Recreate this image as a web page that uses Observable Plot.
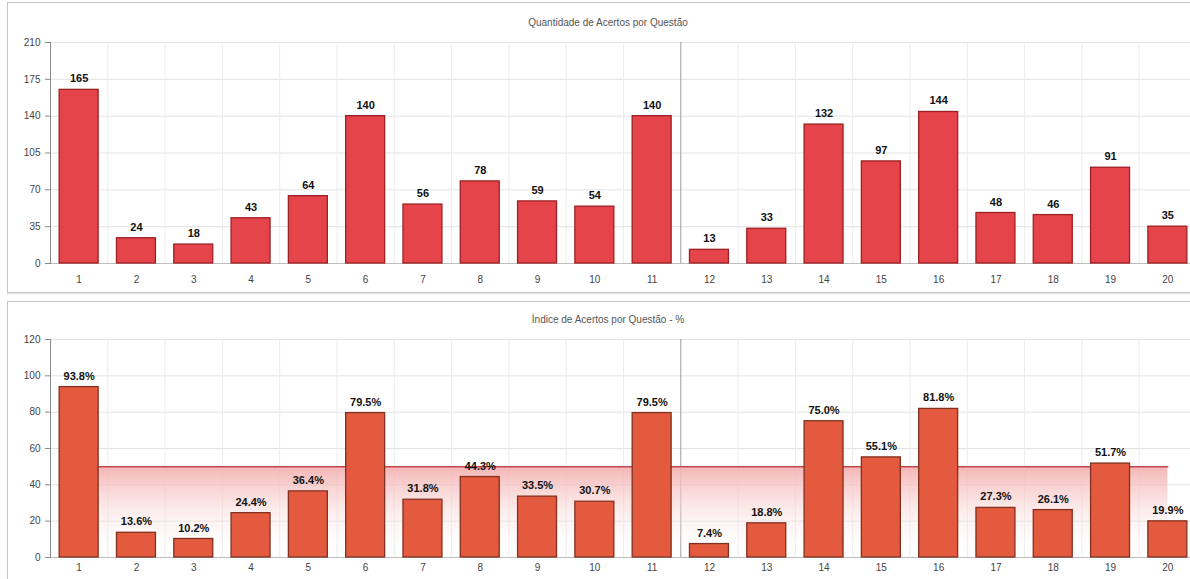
<!DOCTYPE html>
<html><head><meta charset="utf-8">
<script src="https://cdn.jsdelivr.net/npm/d3@7"></script>
<script src="https://cdn.jsdelivr.net/npm/@observablehq/plot@0.6"></script>
<style>
body{margin:0;width:1190px;height:579px;overflow:hidden;background:#fff;position:relative;font-family:"Liberation Sans",Arial,sans-serif}
.panel{position:absolute;left:7px;width:1200px;border:1px solid #c6c6c6;box-shadow:0 1px 1px #e4e4e4}
.title{position:absolute;left:0;width:1216px;text-align:center;font-size:10px;color:#555}
.chart{position:absolute;left:0;width:1200px}
.chart svg{max-width:none !important;height:auto}
</style></head><body>
<div class="panel" style="top:2px;height:289px"></div>
<div class="panel" style="top:301px;height:300px"></div>
<div class="title" style="top:17px">Quantidade de Acertos por Questão</div>
<div class="title" style="top:314px">Índice de Acertos por Questão - %</div>
<div id="c1" class="chart" style="top:0"></div>
<div id="c2" class="chart" style="top:296px"></div>
<script>
const questions = [1,2,3,4,5,6,7,8,9,10,11,12,13,14,15,16,17,18,19,20];
const acertos = [165,24,18,43,64,140,56,78,59,54,140,13,33,132,97,144,48,46,91,35];
const indice = [93.8,13.6,10.2,24.4,36.4,79.5,31.8,44.3,33.5,30.7,79.5,7.4,18.8,75.0,55.1,81.8,27.3,26.1,51.7,19.9];
const ticksTop = [0,35,70,105,140,175,210];
const ticksBottom = [0,20,40,60,80,100,120];
const meta = 50;

const W = 1200, ML = 50, MR = 4;
const step = (W - ML - MR) / questions.length;

function gradDefs() {
  const d = d3.create("svg:defs");
  const g = d.append("linearGradient").attr("id", "meta-grad")
    .attr("x1", 0).attr("y1", 0).attr("x2", 0).attr("y2", 1);
  g.append("stop").attr("offset", "0%").attr("stop-color", "#f4b0b0").attr("stop-opacity", 0.95);
  g.append("stop").attr("offset", "100%").attr("stop-color", "#fff").attr("stop-opacity", 0);
  return d.node();
}

function chart({values, labels, ticks, ymax, fill, stroke, height, top, bottom, pad, extra}) {
  const data = questions.map((q, i) => ({q, v: values[i], label: labels[i]}));
  return Plot.plot({
    width: W, height, marginLeft: ML, marginRight: MR, marginTop: top, marginBottom: bottom,
    style: {fontFamily: "Liberation Sans, Arial, sans-serif", fontSize: "10px", color: "#444", background: "transparent", overflow: "visible", maxWidth: "none"},
    x: {domain: questions, paddingInner: 0.32, paddingOuter: 0.16, round: false, label: null, axis: null},
    y: {domain: [0, ymax], label: null, axis: null},
    marks: [
      Plot.ruleY(ticks, {stroke: "#e3e3e3"}),
      Plot.ruleX(questions, {x: d => d, dx: step / 2, stroke: d => d === 11 ? "#9a9a9a" : "#ececec"}),
      ...extra,
      Plot.ruleY([0], {stroke: "#bdbdbd"}),
      Plot.frame({anchor: "left", stroke: "#8a8a8a"}),
      Plot.axisY({ticks, tickSize: 5, tickPadding: 5, stroke: "#888", fill: "#444", fontSize: 10}),
      Plot.axisX({tickSize: 0, tickPadding: pad, fill: "#444", fontSize: 10}),
      Plot.barY(data, {x: "q", y: "v", fill, stroke, strokeWidth: 1.3}),
      Plot.text(data, {x: "q", y: "v", text: "label", dy: -11, fontWeight: "bold", fontSize: 11, fill: "#111"})
    ]
  });
}

document.getElementById("c1").append(chart({
  values: acertos, labels: acertos.map(String), ticks: ticksTop, ymax: 210,
  fill: "#e5454a", stroke: "#9c2024", height: 290, top: 42, bottom: 27, pad: 12, extra: []
}));

const metaData = questions.map(q => ({q, v: meta}));
document.getElementById("c2").append(chart({
  values: indice, labels: indice.map(v => v.toFixed(1) + "%"), ticks: ticksBottom, ymax: 120,
  fill: "#e35a3e", stroke: "#82301f", height: 283, top: 43, bottom: 22, pad: 6,
  extra: [
    gradDefs,
    Plot.areaY(metaData, {x: "q", y: "v", fill: "url(#meta-grad)"}),
    Plot.lineY(metaData, {x: "q", y: "v", stroke: "#c0474a", strokeWidth: 1.5})
  ]
}));
</script>
</body></html>
